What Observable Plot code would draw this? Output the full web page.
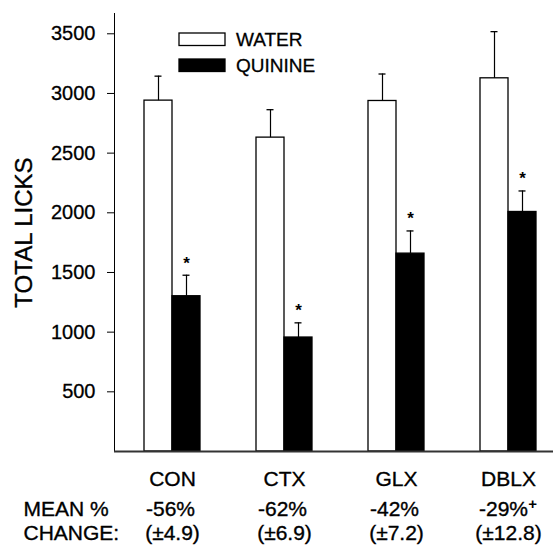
<!DOCTYPE html>
<html><head><meta charset="utf-8">
<script src="https://cdn.jsdelivr.net/npm/d3@7"></script>
<script src="https://cdn.jsdelivr.net/npm/@observablehq/plot@0.6"></script>
<style>body{margin:0;background:#fff} #chart{position:relative;width:553px;height:547px}</style>
</head><body><div id="chart"></div>
<script>
const groups = ["CON", "CTX", "GLX", "DBLX"];
const water = [2940, 2630, 2937, 3127];
const waterErr = [205, 234, 226, 391];
const quinine = [1301, 955, 1658, 2007];
const quinineErr = [176, 123, 190, 176];
const meanChange = ["-56%", "-62%", "-42%", "-29%"];
const changeSE = ["(±4.9)", "(±6.9)", "(±7.2)", "(±12.8)"];
const superscript = ["", "", "", "+"];
const significant = [true, true, true, true];
const yTicks = [500, 1000, 1500, 2000, 2500, 3000, 3500];
const seriesNames = ["WATER", "QUININE"];

const rows = groups.map((g, i) => ({
  group: g, water: water[i], waterErr: waterErr[i], quinine: quinine[i], quinineErr: quinineErr[i],
  pct: meanChange[i], se: changeSE[i], sup: superscript[i], sig: significant[i]
}));

const FONT = "'Liberation Sans', Arial, Helvetica, sans-serif";
const HALF = 28;
const T = {fill: "black", stroke: "black", strokeWidth: 0.35};

const plot = Plot.plot({
  width: 553, height: 547,
  marginLeft: 114, marginRight: 0, marginTop: 13, marginBottom: 96,
  style: {fontFamily: FONT, fontSize: "20px", color: "black", background: "white"},
  x: {domain: groups, paddingInner: 0.5, paddingOuter: 0.2045, align: 0.63, axis: null},
  y: {domain: [0, 3670], ticks: yTicks, tickSize: 7, tickPadding: 12, line: true, label: null, tickFormat: d => String(d)},
  marks: [
    Plot.barY(rows, {x: "group", y: "water", fill: "white", stroke: "black", strokeWidth: 1.3, insetRight: HALF}),
    Plot.barY(rows, {x: "group", y: "quinine", fill: "black", stroke: "black", strokeWidth: 1.3, insetLeft: HALF}),
    Plot.ruleX(rows, {x: "group", y1: "water", y2: d => d.water + d.waterErr, dx: -14, stroke: "black", strokeWidth: 1.2}),
    Plot.ruleX(rows, {x: "group", y1: "quinine", y2: d => d.quinine + d.quinineErr, dx: 14, stroke: "black", strokeWidth: 1.2}),
    Plot.tickY(rows, {x: "group", y: d => d.water + d.waterErr, insetLeft: 10.5, insetRight: 38.5, stroke: "black", strokeWidth: 1.3}),
    Plot.tickY(rows, {x: "group", y: d => d.quinine + d.quinineErr, insetLeft: 38.5, insetRight: 10.5, stroke: "black", strokeWidth: 1.3}),
    Plot.text(rows.filter(d => d.sig), {x: "group", y: d => d.quinine + d.quinineErr, text: () => "*", dx: 14, dy: -12, fontSize: 17, fontWeight: "bold", fill: "black"}),
    Plot.ruleY([0], {stroke: "#333", strokeWidth: 2}),
    Plot.text(["TOTAL LICKS"], {frameAnchor: "left", text: d => d, textAnchor: "middle", rotate: -90, dx: -90, fontSize: 24, ...T}),
    Plot.text(rows, {x: "group", frameAnchor: "bottom", text: "group", lineAnchor: "top", dy: 20, fontSize: 21, ...T}),
    Plot.text(rows.filter(d => !d.sup), {x: "group", frameAnchor: "bottom", text: "pct", lineAnchor: "top", dy: 50, dx: -2, fontSize: 21, ...T}),
    Plot.text(rows.filter(d => d.sup), {x: "group", frameAnchor: "bottom", text: "pct", lineAnchor: "top", dy: 50, dx: -5, fontSize: 21, ...T}),
    Plot.text(rows.filter(d => d.sup), {x: "group", frameAnchor: "bottom", text: "sup", lineAnchor: "top", dy: 47, dx: 24, fontSize: 15, fontWeight: "bold", fill: "black"}),
    Plot.text(rows, {x: "group", frameAnchor: "bottom", text: "se", lineAnchor: "top", dy: 74, fontSize: 21, ...T}),
    Plot.text(["MEAN %"], {frameAnchor: "bottom-left", text: d => d, textAnchor: "start", lineAnchor: "top", dx: -91, dy: 50, fontSize: 21, ...T}),
    Plot.text(["CHANGE:"], {frameAnchor: "bottom-left", text: d => d, textAnchor: "start", lineAnchor: "top", dx: -91, dy: 74, fontSize: 21, ...T})
  ]
});

const svg = d3.select(plot);
svg.selectAll("g[aria-label='y-axis tick label'] text, g[aria-label='y-axis tick label']")
  .attr("stroke", "black").attr("stroke-width", 0.3);

// In-plot legend (top-left of frame)
const lg = svg.append("g").attr("font-family", FONT).attr("font-size", 19).attr("text-anchor", "start");
const legendFills = ["white", "black"];
seriesNames.forEach((name, i) => {
  const y0 = 33 + i * 26;
  lg.append("rect").attr("x", 179).attr("y", y0).attr("width", 46).attr("height", 12.5)
    .attr("fill", legendFills[i]).attr("stroke", "black").attr("stroke-width", 1.3);
  lg.append("text").attr("x", 236).attr("y", y0 + 6.5).attr("dy", "0.35em")
    .attr("fill", "black").attr("stroke", "black").attr("stroke-width", 0.3).text(name);
});

document.getElementById("chart").appendChild(plot);
</script></body></html>
